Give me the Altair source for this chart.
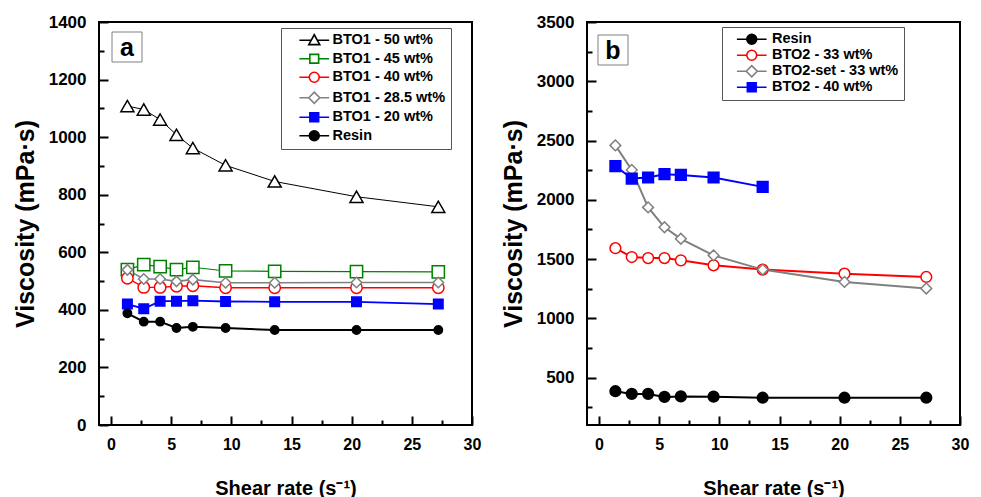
import altair as alt
import pandas as pd

# ---------------- data ----------------
shear_rate = [1.36, 2.72, 4.08, 5.44, 6.80, 9.52, 13.6, 20.4, 27.2]

a_names = ["BTO1 - 50 wt%", "BTO1 - 45 wt%", "BTO1 - 40 wt%",
           "BTO1 - 28.5 wt%", "BTO1 - 20 wt%", "Resin"]
a_bto1_50 = [1108, 1096, 1061, 1008, 962, 902, 846, 793, 758]
a_bto1_45 = [540, 557, 550, 540, 548, 535, 534, 533, 532]
a_bto1_40 = [510, 478, 478, 482, 484, 477, 477, 477, 477]
a_bto1_285 = [539, 507, 507, 499, 505, 494, 494, 495, 495]
a_bto1_20 = [420, 404, 430, 430, 432, 429, 428, 428, 420]
a_resin = [388, 359, 359, 337, 341, 337, 330, 330, 330]

b_names = ["Resin", "BTO2 - 33 wt%", "BTO2-set - 33 wt%", "BTO2 - 40 wt%"]
b_resin = [385, 362, 362, 337, 341, 339, 330, 330, 330]
b_bto2_33 = [1592, 1517, 1508, 1508, 1489, 1447, 1411, 1377, 1349]
b_bto2set_33 = [2459, 2252, 1936, 1768, 1671, 1531, 1411, 1307, 1252]
b_bto2_40 = [2285, 2179, 2188, 2216, 2210, 2188, 2109]

x_ticks = [0, 2.5, 5, 7.5, 10, 12.5, 15, 17.5, 20, 22.5, 25, 27.5, 30]
a_y_ticks = [0, 100, 200, 300, 400, 500, 600, 700, 800, 900, 1000, 1100, 1200, 1300, 1400]
b_y_ticks = [250, 500, 750, 1000, 1250, 1500, 1750, 2000, 2250, 2500, 2750, 3000, 3250, 3500]
panel_labels = ["a", "b"]

x_title = "Shear rate (s\u207b\u00b9)"
y_title = "Viscosity (mPa\u00b7s)"

FONT = "Liberation Sans"

# ---------------- styles ----------------
# name -> (stroke colour, fill colour, plot shape, legend shape, marker size, line width)
TRI = "M-2.7,0H-0.56M0.56,0H2.7M0,-1L1,0.8L-1,0.8Z"
SQ = "M-2.7,0H-0.8M0.8,0H2.7M-0.8,-0.8H0.8V0.8H-0.8Z"
CIR = "M-2.7,0H-0.9M0.9,0H2.7M-0.9,0A0.9,0.9,0,1,1,0.9,0A0.9,0.9,0,1,1,-0.9,0Z"
DIA = "M-2.7,0H-1M1,0H2.7M-1,0L0,-1L1,0L0,1Z"

STYLE = {
    "BTO1 - 50 wt%": ("black", "white", "triangle-up", TRI, 170, 1),
    "BTO1 - 45 wt%": ("#008000", "white", "square", SQ, 70, 2),
    "BTO1 - 40 wt%": ("#FF0000", "white", "circle", CIR, 110, 2),
    "BTO1 - 28.5 wt%": ("#808080", "white", "diamond", DIA, 140, 2),
    "BTO1 - 20 wt%": ("#0000FF", "#0000FF", "square", SQ, 85, 2),
    "Resin": ("black", "black", "circle", CIR, 115, 2),
    "BTO2 - 33 wt%": ("#FF0000", "white", "circle", CIR, 115, 2),
    "BTO2-set - 33 wt%": ("#808080", "white", "diamond", DIA, 150, 2),
    "BTO2 - 40 wt%": ("#0000FF", "#0000FF", "square", SQ, 100, 2),
}


def long_df(names, series):
    rows = []
    for name, vals in zip(names, series):
        for xv, yv in zip(shear_rate, vals):
            rows.append({"series": name, "rate": xv, "visc": yv})
    return pd.DataFrame(rows)


def panel(names, series, y_domain, y_ticks, y_major, legend_pos, label,
          label_pos, row_pad, sym_off, lab_off):
    df = long_df(names, series)
    base = alt.Chart(df)
    col = lambda i: [STYLE[n][i] for n in names]

    x = alt.X("rate:Q",
              scale=alt.Scale(domain=[-1, 30], nice=False, zero=False),
              axis=alt.Axis(values=x_ticks, title=x_title,
                            labelExpr="datum.value % 5 === 0 ? datum.label : ''",
                            tickSize={"condition": {"test": "datum.value % 5 === 0", "value": -9}, "value": -5},
                            labelPadding=20, labelFontSize=16, titleFontSize=20,
                            titlePadding=22, format="d"))
    y = alt.Y("visc:Q",
              scale=alt.Scale(domain=y_domain, nice=False, zero=False),
              axis=alt.Axis(values=y_ticks, title=y_title,
                            labelExpr=f"datum.value % {y_major} === 0 ? datum.label : ''",
                            tickSize={"condition": {"test": f"datum.value % {y_major} === 0", "value": -9}, "value": -5},
                            labelPadding=22, labelFontSize=17, titleFontSize=25,
                            titlePadding=10, format="d"))

    lines = base.mark_line().encode(
        x=x, y=y,
        stroke=alt.Stroke("series:N", scale=alt.Scale(domain=names, range=col(0)), legend=None),
        strokeWidth=alt.StrokeWidth("series:O", scale=alt.Scale(domain=names, range=col(5)), legend=None),
    )
    points = base.mark_point(filled=True, opacity=1, strokeWidth=1.5).encode(
        x=x, y=y,
        shape=alt.Shape("series:N", scale=alt.Scale(domain=names, range=col(2)), legend=None),
        stroke=alt.Stroke("series:N", scale=alt.Scale(domain=names, range=col(0)), legend=None),
        fill=alt.Fill("series:N", scale=alt.Scale(domain=names, range=col(1)), legend=None),
        size=alt.Size("series:O", scale=alt.Scale(domain=names, range=col(4)), legend=None),
    )
    leg = alt.Legend(title=None, orient="none", legendX=legend_pos[0], legendY=legend_pos[1],
                     padding=5, strokeColor="#555555", fillColor="white",
                     labelFont=FONT, labelFontWeight="bold", labelFontSize=14.5,
                     labelColor="black", symbolSize=121, symbolStrokeWidth=1.6,
                     symbolFillColor="white", symbolStrokeColor="black",
                     symbolOffset=sym_off, labelOffset=lab_off, rowPadding=row_pad)
    legend_layer = base.transform_filter("false").mark_point(filled=True, opacity=1, strokeWidth=1.6).encode(
        x=x, y=y,
        shape=alt.Shape("series:N", scale=alt.Scale(domain=names, range=col(3)), legend=leg),
        stroke=alt.Stroke("series:N", scale=alt.Scale(domain=names, range=col(0)), legend=leg),
        fill=alt.Fill("series:N", scale=alt.Scale(domain=names, range=col(1)), legend=leg),
    )
    lab_df = pd.DataFrame({"label": [label]})
    lx, ly = label_pos
    box = alt.Chart(lab_df).mark_rect(fill="white", stroke="#808080", strokeWidth=1).encode(
        x=alt.value(lx - 15), x2=alt.value(lx + 15), y=alt.value(ly - 15), y2=alt.value(ly + 15))
    txt = alt.Chart(lab_df).mark_text(font=FONT, fontWeight="bold", fontSize=25,
                                      color="black", baseline="middle", align="center").encode(
        x=alt.value(lx), y=alt.value(ly + 1), text="label:N")

    return alt.layer(lines, points, legend_layer, box, txt).resolve_scale(
        shape="independent", stroke="independent", fill="independent",
        size="independent", strokeWidth="independent"
    ).properties(width=373, height=403)


panel_a = panel(a_names, [a_bto1_50, a_bto1_45, a_bto1_40, a_bto1_285, a_bto1_20, a_resin],
                [0, 1400], a_y_ticks, 200, (182, 6), panel_labels[0], (28, 25), 2.5, 21, 11)
panel_b = panel(b_names, [b_resin, b_bto2_33, b_bto2set_33, b_bto2_40],
                [100, 3500], b_y_ticks, 500, (135, 5), panel_labels[1], (26, 28), -3, 17.5, 13)

chart = alt.hconcat(panel_a, panel_b, spacing=18).resolve_scale(
    x="independent", y="independent", shape="independent", stroke="independent",
    fill="independent", size="independent", strokeWidth="independent"
).properties(
    padding={"left": 12, "top": 12, "right": 2, "bottom": 0},
    background="white",
).configure_view(
    stroke="black", strokeWidth=2
).configure_axis(
    labelFont=FONT, labelFontWeight="bold", labelColor="black",
    titleFont=FONT, titleFontWeight="bold", titleColor="black",
    tickColor="black", tickWidth=2, domain=False, grid=False,
    labelOverlap=False, labelFlush=False,
)

chart.save("out.html", embed_options={"renderer": "svg", "actions": False})
